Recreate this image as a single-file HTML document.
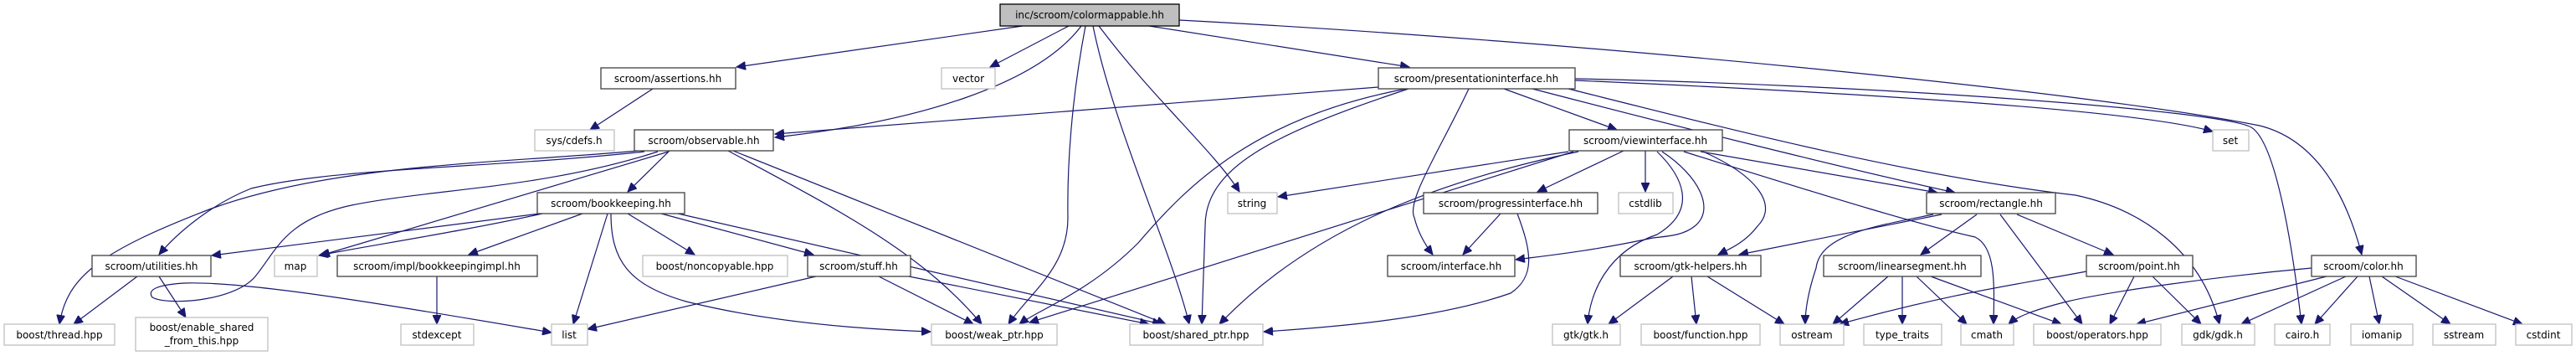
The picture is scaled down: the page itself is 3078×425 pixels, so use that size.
<!DOCTYPE html>
<html><head><meta charset="utf-8"><style>
html,body{margin:0;padding:0;background:#fff;}
svg{display:block;}
text{font-family:"DejaVu Sans","Liberation Sans",sans-serif;font-size:12px;fill:#000;}
.n{fill:#fff;stroke:#404040;stroke-width:1.3;}
.g{fill:#fff;stroke:#bfbfbf;stroke-width:1.3;}
.e{fill:none;stroke:#191970;stroke-width:1.2;}
</style></head><body>
<svg width="3078" height="425" viewBox="0 0 3078 425" xmlns="http://www.w3.org/2000/svg">
<defs>
<marker id="a" markerUnits="userSpaceOnUse" markerWidth="12" markerHeight="10" refX="11" refY="5" orient="auto">
<path d="M0,0 L11,5 L0,10 z" fill="#191970" stroke="#191970"/>
</marker>
</defs>
<g marker-end="url(#a)">
<!-- colormappable -->
<path class="e" d="M1222,31 L880,80"/>
<path class="e" d="M1277,31 L1183,80"/>
<path class="e" d="M1292,31 C1240,100 1100,145 926,164"/>
<path class="e" d="M1297,31 C1280,120 1275,200 1276,260 C1276,320 1230,350 1205,387"/>
<path class="e" d="M1306,31 C1330,150 1400,300 1421,387"/>
<path class="e" d="M1313,31 C1380,120 1450,180 1481,229"/>
<path class="e" d="M1373,31 L1684,80"/>
<path class="e" d="M1409,24 C1900,50 2500,110 2700,150 C2760,165 2800,220 2822,304"/>
<!-- presentation -->
<path class="e" d="M1647,104 L926,160"/>
<path class="e" d="M1680,106 C1500,140 1420,220 1360,290 C1300,350 1240,370 1218,387"/>
<path class="e" d="M1683,106 C1520,160 1440,200 1440,270 L1436,387"/>
<path class="e" d="M1755,106 C1720,180 1680,240 1690,260 C1695,280 1705,295 1712,304"/>
<path class="e" d="M1797,106 L1932,155"/>
<path class="e" d="M1831,106 C2000,150 2200,200 2336,230"/>
<path class="e" d="M1874,106 C2050,150 2280,210 2480,233 C2560,250 2630,300 2652,387"/>
<path class="e" d="M1882,94 C2200,100 2650,130 2690,152 C2720,170 2740,300 2750,387"/>
<path class="e" d="M1882,96 C2200,110 2550,130 2644,157"/>
<!-- assertions -->
<path class="e" d="M780,106 L705,155"/>
<!-- observable -->
<path class="e" d="M762,180 C600,195 400,195 250,250 C120,300 80,330 71,387"/>
<path class="e" d="M770,181 C600,200 400,200 300,225 C250,245 210,280 190,304"/>
<path class="e" d="M786,181 C650,225 520,225 420,245 C340,262 330,300 305,330 C280,360 200,365 182,355 C175,345 190,340 220,338 C300,335 500,370 659,397"/>
<path class="e" d="M799,181 L383,305"/>
<path class="e" d="M800,180 L750,229"/>
<path class="e" d="M870,180 C1000,250 1100,300 1173,387"/>
<path class="e" d="M876,180 L1393,387"/>
<!-- bookkeeping -->
<path class="e" d="M645,255 L253,305"/>
<path class="e" d="M648,255 C560,275 430,295 381,305"/>
<path class="e" d="M696,255 L560,304"/>
<path class="e" d="M726,255 L685,387"/>
<path class="e" d="M730,255 C730,310 750,340 820,360 C900,380 1000,392 1112,396"/>
<path class="e" d="M750,255 L830,304"/>
<path class="e" d="M790,255 L972,304"/>
<path class="e" d="M810,255 L1388,387"/>
<!-- stuff -->
<path class="e" d="M975,330 L702,393"/>
<path class="e" d="M1050,330 L1163,387"/>
<path class="e" d="M1086,330 L1373,387"/>
<!-- utilities -->
<path class="e" d="M164,330 L88,387"/>
<path class="e" d="M190,330 L222,379"/>
<!-- bookkeepingimpl -->
<path class="e" d="M522,330 L522,387"/>
<!-- viewinterface -->
<path class="e" d="M1874,181 L1527,235"/>
<path class="e" d="M1880,181 L1230,385"/>
<path class="e" d="M1886,181 C1700,220 1560,280 1457,387"/>
<path class="e" d="M1940,180 L1837,229"/>
<path class="e" d="M1966,180 L1966,229"/>
<path class="e" d="M1980,181 C2010,210 2030,250 1980,280 C1920,300 1900,350 1897,387"/>
<path class="e" d="M1986,181 C2030,210 2050,250 2025,270 C2010,282 1990,282 1975,284 C1900,300 1850,305 1811,310"/>
<path class="e" d="M2035,181 C2100,210 2125,245 2100,270 C2085,290 2065,298 2053,304"/>
<path class="e" d="M2032,181 L2315,230"/>
<path class="e" d="M2012,181 C2200,240 2300,270 2360,283 C2385,295 2383,340 2382,387"/>
<!-- progressinterface -->
<path class="e" d="M1793,255 L1748,304"/>
<path class="e" d="M1813,255 C1830,300 1835,330 1805,350 C1720,380 1600,390 1510,396"/>
<!-- rectangle -->
<path class="e" d="M2320,256 L2078,304"/>
<path class="e" d="M2310,256 C2240,270 2175,280 2170,320 C2160,350 2157,370 2157,387"/>
<path class="e" d="M2362,256 L2295,304"/>
<path class="e" d="M2390,256 L2488,387"/>
<path class="e" d="M2410,256 L2525,304"/>
<!-- gtk-helpers -->
<path class="e" d="M1999,330 L1922,387"/>
<path class="e" d="M2021,330 L2027,387"/>
<path class="e" d="M2040,330 L2132,387"/>
<!-- linearsegment -->
<path class="e" d="M2256,330 L2190,387"/>
<path class="e" d="M2273,330 L2273,387"/>
<path class="e" d="M2290,330 L2350,387"/>
<path class="e" d="M2307,330 L2463,387"/>
<!-- point -->
<path class="e" d="M2493,324 C2420,338 2330,350 2198,387"/>
<path class="e" d="M2550,330 L2521,387"/>
<path class="e" d="M2572,330 L2630,387"/>
<!-- color -->
<path class="e" d="M2762,320 C2650,330 2520,348 2470,360 C2430,370 2410,378 2400,387"/>
<path class="e" d="M2780,330 L2553,387"/>
<path class="e" d="M2803,330 L2678,387"/>
<path class="e" d="M2817,330 L2766,387"/>
<path class="e" d="M2831,330 L2843,387"/>
<path class="e" d="M2846,330 L2928,387"/>
<path class="e" d="M2862,330 L3014,387"/>
</g>

<!-- nodes -->
<rect x="1195" y="5" width="214" height="26" fill="#bfbfbf" stroke="#000" stroke-width="1.3"/>
<text x="1302" y="22" text-anchor="middle">inc/scroom/colormappable.hh</text>

<rect class="n" x="718" y="81" width="161" height="25"/><text x="798" y="98" text-anchor="middle">scroom/assertions.hh</text>
<rect class="g" x="1125" y="81" width="64" height="25"/><text x="1157" y="98" text-anchor="middle">vector</text>
<rect class="n" x="1647" y="81" width="235" height="25"/><text x="1764" y="98" text-anchor="middle">scroom/presentationinterface.hh</text>

<rect class="g" x="639" y="155" width="95" height="25"/><text x="686" y="172" text-anchor="middle">sys/cdefs.h</text>
<rect class="n" x="758" y="155" width="166" height="25"/><text x="841" y="172" text-anchor="middle">scroom/observable.hh</text>
<rect class="n" x="1875" y="155" width="183" height="25"/><text x="1966" y="172" text-anchor="middle">scroom/viewinterface.hh</text>
<rect class="g" x="2644" y="155" width="43" height="25"/><text x="2665" y="172" text-anchor="middle">set</text>

<rect class="n" x="642" y="230" width="176" height="25"/><text x="730" y="247" text-anchor="middle">scroom/bookkeeping.hh</text>
<rect class="g" x="1467" y="230" width="59" height="25"/><text x="1496" y="247" text-anchor="middle">string</text>
<rect class="n" x="1701" y="230" width="208" height="25"/><text x="1805" y="247" text-anchor="middle">scroom/progressinterface.hh</text>
<rect class="g" x="1934" y="230" width="65" height="25"/><text x="1966" y="247" text-anchor="middle">cstdlib</text>
<rect class="n" x="2302" y="230" width="154" height="25"/><text x="2379" y="247" text-anchor="middle">scroom/rectangle.hh</text>

<rect class="n" x="110" y="305" width="142" height="25"/><text x="181" y="322" text-anchor="middle">scroom/utilities.hh</text>
<rect class="g" x="328" y="305" width="51" height="25"/><text x="353" y="322" text-anchor="middle">map</text>
<rect class="n" x="403" y="305" width="239" height="25"/><text x="522" y="322" text-anchor="middle">scroom/impl/bookkeepingimpl.hh</text>
<rect class="g" x="768" y="305" width="173" height="25"/><text x="854" y="322" text-anchor="middle">boost/noncopyable.hpp</text>
<rect class="n" x="965" y="305" width="123" height="25"/><text x="1026" y="322" text-anchor="middle">scroom/stuff.hh</text>
<rect class="n" x="1658" y="305" width="152" height="25"/><text x="1734" y="322" text-anchor="middle">scroom/interface.hh</text>
<rect class="n" x="1936" y="305" width="168" height="25"/><text x="2020" y="322" text-anchor="middle">scroom/gtk-helpers.hh</text>
<rect class="n" x="2179" y="305" width="188" height="25"/><text x="2273" y="322" text-anchor="middle">scroom/linearsegment.hh</text>
<rect class="n" x="2493" y="305" width="127" height="25"/><text x="2556" y="322" text-anchor="middle">scroom/point.hh</text>
<rect class="n" x="2762" y="305" width="125" height="25"/><text x="2824" y="322" text-anchor="middle">scroom/color.hh</text>

<rect class="g" x="5" y="387" width="132" height="25"/><text x="71" y="404" text-anchor="middle">boost/thread.hpp</text>
<rect class="g" x="162" y="379" width="158" height="40"/><text x="241" y="395" text-anchor="middle">boost/enable_shared</text><text x="241" y="411" text-anchor="middle">_from_this.hpp</text>
<rect class="g" x="479" y="387" width="87" height="25"/><text x="522" y="404" text-anchor="middle">stdexcept</text>
<rect class="g" x="659" y="387" width="43" height="25"/><text x="680" y="404" text-anchor="middle">list</text>
<rect class="g" x="1113" y="387" width="150" height="25"/><text x="1188" y="404" text-anchor="middle">boost/weak_ptr.hpp</text>
<rect class="g" x="1350" y="387" width="159" height="25"/><text x="1429" y="404" text-anchor="middle">boost/shared_ptr.hpp</text>
<rect class="g" x="1855" y="387" width="81" height="25"/><text x="1895" y="404" text-anchor="middle">gtk/gtk.h</text>
<rect class="g" x="1961" y="387" width="142" height="25"/><text x="2032" y="404" text-anchor="middle">boost/function.hpp</text>
<rect class="g" x="2127" y="387" width="76" height="25"/><text x="2165" y="404" text-anchor="middle">ostream</text>
<rect class="g" x="2227" y="387" width="93" height="25"/><text x="2273" y="404" text-anchor="middle">type_traits</text>
<rect class="g" x="2343" y="387" width="63" height="25"/><text x="2374" y="404" text-anchor="middle">cmath</text>
<rect class="g" x="2430" y="387" width="152" height="25"/><text x="2506" y="404" text-anchor="middle">boost/operators.hpp</text>
<rect class="g" x="2607" y="387" width="87" height="25"/><text x="2650" y="404" text-anchor="middle">gdk/gdk.h</text>
<rect class="g" x="2718" y="387" width="66" height="25"/><text x="2751" y="404" text-anchor="middle">cairo.h</text>
<rect class="g" x="2809" y="387" width="74" height="25"/><text x="2846" y="404" text-anchor="middle">iomanip</text>
<rect class="g" x="2907" y="387" width="75" height="25"/><text x="2944" y="404" text-anchor="middle">sstream</text>
<rect class="g" x="3006" y="387" width="67" height="25"/><text x="3039" y="404" text-anchor="middle">cstdint</text>
</svg>
</body></html>
